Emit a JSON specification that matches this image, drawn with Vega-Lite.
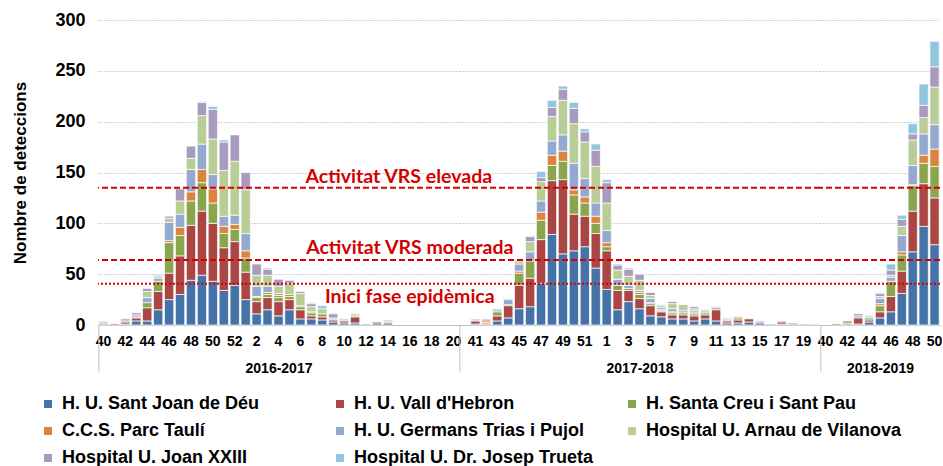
{
  "$schema": "https://vega.github.io/schema/vega-lite/v6.json",
  "background": "white",
  "padding": {"left": 11, "top": 11, "right": 0, "bottom": 0},
  "bounds": "flush",
  "spacing": 0,
  "config": {
    "view": {"stroke": null},
    "legend": {
      "orient": "none", "legendX": -59, "legendY": 375,
      "direction": "horizontal", "columns": 3, "gridAlign": "all",
      "columnPadding": 13, "rowPadding": 9,
      "symbolType": "square", "symbolSize": 64, "symbolStrokeWidth": 0,
      "labelFont": "Liberation Sans", "labelFontSize": 18, "labelFontWeight": "bold",
      "labelColor": "black", "labelOffset": 5, "labelLimit": 400
    },
    "axisX": {
      "titleFont": "Liberation Sans", "titleFontSize": 14, "titleFontWeight": "bold", "titleColor": "black", "titlePadding": 13,
      "labelFont": "Liberation Sans", "labelFontSize": 14, "labelFontWeight": "bold", "labelColor": "black",
      "labelAngle": 0, "labelPadding": 9, "labelOverlap": false, "ticks": false, "tickSize": 0,
      "domainColor": "#BFBFBF", "grid": false
    },
    "axisY": {
      "titleFont": "Liberation Sans", "titleFontSize": 17, "titleFontWeight": "bold", "titleColor": "black", "titlePadding": 25,
      "labelFont": "Liberation Sans", "labelFontSize": 18, "labelFontWeight": "bold", "labelColor": "black", "labelPadding": 13,
      "ticks": false, "tickSize": 0, "domain": false, "grid": true, "gridColor": "#A6A6A6", "gridDash": [1, 2],
      "values": [0, 50, 100, 150, 200, 250, 300]
    }
  },
  "datasets": {
    "hosp": [
      {"k": "a", "name": "H. U. Sant Joan de Déu", "o": 1},
      {"k": "b", "name": "H. U. Vall d'Hebron", "o": 2},
      {"k": "c", "name": "H. Santa Creu i Sant Pau", "o": 3},
      {"k": "d", "name": "C.C.S. Parc Taulí", "o": 4},
      {"k": "e", "name": "H. U. Germans Trias i Pujol", "o": 5},
      {"k": "f", "name": "Hospital U. Arnau de Vilanova", "o": 6},
      {"k": "g", "name": "Hospital U. Joan XXIII", "o": 7},
      {"k": "h", "name": "Hospital U. Dr. Josep Trueta", "o": 8}
    ],
    "rows": [
      {"s": "2016-2017", "w": "40", "a": 1, "b": 1, "c": 1, "f": 1},
      {"s": "2016-2017", "w": "41", "b": 1},
      {"s": "2016-2017", "w": "42", "a": 1, "b": 2, "c": 1, "g": 2},
      {"s": "2016-2017", "w": "43", "a": 4, "b": 3, "c": 1, "e": 2, "g": 2},
      {"s": "2016-2017", "w": "44", "a": 4, "b": 13, "c": 5, "e": 5, "f": 6, "g": 3},
      {"s": "2016-2017", "w": "45", "a": 15, "b": 18, "c": 10, "e": 3, "f": 2, "g": 1},
      {"s": "2016-2017", "w": "46", "a": 25, "b": 26, "c": 30, "d": 2, "e": 18, "f": 4, "g": 2},
      {"s": "2016-2017", "w": "47", "a": 30, "b": 38, "c": 20, "d": 8, "e": 13, "f": 13, "g": 12},
      {"s": "2016-2017", "w": "48", "a": 44, "b": 54, "c": 24, "d": 9, "e": 22, "f": 11, "g": 12},
      {"s": "2016-2017", "w": "49", "a": 49, "b": 63, "c": 28, "d": 13, "e": 25, "f": 28, "g": 13, "h": 1},
      {"s": "2016-2017", "w": "50", "a": 43, "b": 57, "c": 20, "d": 14, "e": 14, "f": 35, "g": 29, "h": 3},
      {"s": "2016-2017", "w": "51", "a": 34, "b": 42, "c": 14, "d": 7, "e": 10, "f": 45, "g": 28, "h": 2},
      {"s": "2016-2017", "w": "52", "a": 39, "b": 43, "c": 12, "d": 5, "e": 9, "f": 53, "g": 26},
      {"s": "2016-2017", "w": "1", "a": 25, "b": 27, "c": 14, "d": 7, "e": 17, "f": 43, "g": 17},
      {"s": "2016-2017", "w": "2", "a": 11, "b": 12, "c": 4, "d": 1, "e": 10, "f": 11, "g": 11},
      {"s": "2016-2017", "w": "3", "a": 15, "b": 12, "c": 3, "d": 2, "e": 6, "f": 11, "g": 6, "h": 1},
      {"s": "2016-2017", "w": "4", "a": 9, "b": 14, "c": 4, "d": 2, "e": 2, "f": 7, "g": 7},
      {"s": "2016-2017", "w": "5", "a": 15, "b": 10, "c": 3, "d": 2, "f": 11, "g": 3},
      {"s": "2016-2017", "w": "6", "a": 6, "b": 9, "c": 3, "d": 1, "f": 12, "g": 2},
      {"s": "2016-2017", "w": "7", "a": 6, "b": 3, "c": 3, "d": 1, "f": 5, "g": 3, "h": 1},
      {"s": "2016-2017", "w": "8", "a": 5, "b": 3, "c": 3, "f": 5, "h": 3},
      {"s": "2016-2017", "w": "9", "a": 3, "b": 2, "c": 1, "e": 1, "g": 4},
      {"s": "2016-2017", "w": "10", "a": 2, "b": 2, "e": 1, "g": 1},
      {"s": "2016-2017", "w": "11", "a": 2, "b": 6, "c": 1, "f": 2},
      {"s": "2016-2017", "w": "12", "c": 1},
      {"s": "2016-2017", "w": "13", "a": 2, "b": 1},
      {"s": "2016-2017", "w": "14", "a": 2, "c": 1, "e": 1, "g": 1},
      {"s": "2017-2018", "w": "41", "a": 1, "b": 3, "e": 1, "g": 1},
      {"s": "2017-2018", "w": "42", "a": 1, "b": 1, "c": 1, "d": 2, "e": 1},
      {"s": "2017-2018", "w": "43", "a": 4, "b": 5, "c": 4, "e": 2, "g": 1},
      {"s": "2017-2018", "w": "44", "a": 7, "b": 12, "c": 1, "e": 5, "g": 1},
      {"s": "2017-2018", "w": "45", "a": 16, "b": 23, "c": 12, "d": 2, "e": 7, "f": 3, "g": 1},
      {"s": "2017-2018", "w": "46", "a": 18, "b": 28, "c": 17, "e": 9, "f": 10, "g": 5, "h": 1},
      {"s": "2017-2018", "w": "47", "a": 41, "b": 43, "c": 19, "d": 8, "e": 11, "f": 19, "g": 4, "h": 6},
      {"s": "2017-2018", "w": "48", "a": 89, "b": 53, "c": 15, "d": 10, "e": 14, "f": 24, "g": 9, "h": 7},
      {"s": "2017-2018", "w": "49", "a": 70, "b": 73, "c": 18, "d": 10, "e": 16, "f": 34, "g": 11, "h": 3},
      {"s": "2017-2018", "w": "50", "a": 73, "b": 36, "c": 19, "d": 5, "e": 26, "f": 39, "g": 15, "h": 6},
      {"s": "2017-2018", "w": "51", "a": 77, "b": 30, "c": 13, "d": 6, "e": 18, "f": 36, "g": 10, "h": 3},
      {"s": "2017-2018", "w": "52", "a": 56, "b": 34, "c": 10, "d": 7, "e": 13, "f": 36, "g": 16, "h": 6},
      {"s": "2017-2018", "w": "1", "a": 35, "b": 38, "c": 4, "d": 4, "e": 12, "f": 27, "g": 20, "h": 3},
      {"s": "2017-2018", "w": "2", "a": 15, "b": 19, "c": 5, "e": 6, "f": 9, "g": 5, "h": 1},
      {"s": "2017-2018", "w": "3", "a": 23, "b": 11, "c": 2, "e": 3, "f": 9, "g": 7, "h": 1},
      {"s": "2017-2018", "w": "4", "a": 16, "b": 10, "c": 4, "d": 2, "e": 2, "f": 10, "g": 6},
      {"s": "2017-2018", "w": "5", "a": 9, "b": 10, "c": 2, "d": 1, "e": 4, "f": 3, "g": 3},
      {"s": "2017-2018", "w": "6", "a": 8, "b": 5, "c": 1, "d": 1, "e": 2, "f": 2, "h": 1},
      {"s": "2017-2018", "w": "7", "a": 6, "b": 4, "c": 2, "d": 1, "e": 3, "f": 5, "g": 2},
      {"s": "2017-2018", "w": "8", "a": 6, "b": 4, "c": 2, "e": 2, "f": 6},
      {"s": "2017-2018", "w": "9", "a": 4, "b": 5, "c": 2, "d": 1, "e": 2, "f": 2, "g": 2},
      {"s": "2017-2018", "w": "10", "a": 6, "b": 4, "c": 2, "f": 2, "g": 1},
      {"s": "2017-2018", "w": "11", "a": 4, "b": 11, "e": 2, "g": 1},
      {"s": "2017-2018", "w": "12", "a": 2, "b": 2, "c": 1, "e": 1, "f": 1},
      {"s": "2017-2018", "w": "13", "a": 2, "b": 3, "c": 2, "d": 1},
      {"s": "2017-2018", "w": "14", "a": 3, "b": 3},
      {"s": "2017-2018", "w": "15", "a": 2, "b": 1, "e": 1},
      {"s": "2017-2018", "w": "16", "e": 1},
      {"s": "2017-2018", "w": "17", "a": 1, "b": 2, "g": 1},
      {"s": "2017-2018", "w": "18", "b": 1, "c": 1},
      {"s": "2017-2018", "w": "19", "e": 1},
      {"s": "2017-2018", "w": "20", "f": 1},
      {"s": "2018-2019", "w": "41", "b": 1},
      {"s": "2018-2019", "w": "42", "a": 1, "b": 1, "c": 2},
      {"s": "2018-2019", "w": "43", "a": 1, "b": 6, "e": 2, "g": 2},
      {"s": "2018-2019", "w": "44", "a": 3, "b": 2, "c": 2, "e": 1, "g": 1},
      {"s": "2018-2019", "w": "45", "a": 7, "b": 6, "c": 6, "d": 2, "e": 5, "f": 2, "g": 3, "h": 1},
      {"s": "2018-2019", "w": "46", "a": 13, "b": 15, "c": 15, "e": 4, "f": 2, "g": 5, "h": 6},
      {"s": "2018-2019", "w": "47", "a": 31, "b": 22, "c": 16, "d": 3, "e": 16, "f": 9, "g": 7, "h": 4},
      {"s": "2018-2019", "w": "48", "a": 72, "b": 40, "c": 25, "d": 1, "e": 19, "f": 25, "g": 6, "h": 10},
      {"s": "2018-2019", "w": "49", "a": 97, "b": 42, "c": 20, "d": 8, "e": 21, "f": 16, "g": 12, "h": 21},
      {"s": "2018-2019", "w": "50", "a": 79, "b": 46, "c": 31, "d": 17, "e": 24, "f": 37, "g": 20, "h": 25}
    ]
  },
  "hconcat": [
    {
      "width": 361, "height": 305,
      "layer": [
        {
          "data": {"name": "rows"},
          "transform": [
            {"filter": "datum.s == '2016-2017'"},
            {"fold": ["a", "b", "c", "d", "e", "f", "g", "h"], "as": ["k", "v"]},
            {"filter": "datum.v > 0"},
            {"lookup": "k", "from": {"data": {"name": "hosp"}, "key": "k", "fields": ["name", "o"]}}
          ],
          "mark": {"type": "bar", "stroke": "white", "strokeWidth": 0.7},
          "encoding": {
            "x": {"field": "w", "type": "ordinal",
              "scale": {"domain": ["40","41","42","43","44","45","46","47","48","49","50","51","52","1","2","3","4","5","6","7","8","9","10","11","12","13","14","15","16","17","18","19","20"], "paddingInner": 0.15, "paddingOuter": 0.075},
              "axis": {"title": "2016-2017", "labelExpr": "toNumber(datum.value) % 2 == 0 ? datum.value : ''"}},
            "y": {"field": "v", "type": "quantitative", "stack": "zero", "scale": {"domain": [0, 300], "nice": false},
              "axis": {"title": "Nombre de deteccions"}},
            "color": {"field": "name", "type": "nominal",
              "scale": {"domain": ["H. U. Sant Joan de Déu", "H. U. Vall d'Hebron", "H. Santa Creu i Sant Pau", "C.C.S. Parc Taulí", "H. U. Germans Trias i Pujol", "Hospital U. Arnau de Vilanova", "Hospital U. Joan XXIII", "Hospital U. Dr. Josep Trueta"],
                "range": ["#4572A7", "#AA4643", "#89A54E", "#DB843D", "#93A9CF", "#B9CD96", "#A99BBD", "#92C5DE"]},
              "legend": {"title": null}},
            "order": {"field": "o", "type": "quantitative", "sort": "ascending"}
          }
        },
        {
          "data": {"values": [{}]},
          "mark": {"type": "rule", "color": "#BFBFBF", "strokeWidth": 1},
          "encoding": {"x": {"datum": "40", "bandPosition": 0}, "y": {"datum": 0}, "y2": {"datum": -46}}
        },
        {
          "data": {"values": [{}]},
          "mark": {"type": "rule", "color": "#D40000", "strokeWidth": 2, "strokeDash": [6, 3]},
          "encoding": {"y": {"datum": 135}}
        },
        {
          "data": {"values": [{}]},
          "mark": {"type": "rule", "color": "#D40000", "strokeWidth": 2, "strokeDash": [6, 3]},
          "encoding": {"y": {"datum": 64}}
        },
        {
          "data": {"values": [{}]},
          "mark": {"type": "rule", "color": "#D40000", "strokeWidth": 2, "strokeDash": [2, 2]},
          "encoding": {"y": {"datum": 40.5}}
        },
        {
          "data": {"values": [{}]},
          "mark": {"type": "text", "font": "Lato", "fontSize": 19.5, "fontWeight": "bold", "color": "#D40000", "align": "center", "baseline": "middle"},
          "encoding": {"x": {"datum": "15"}, "y": {"datum": 146}, "text": {"value": "Activitat VRS elevada"}}
        },
        {
          "data": {"values": [{}]},
          "mark": {"type": "text", "font": "Lato", "fontSize": 19.5, "fontWeight": "bold", "color": "#D40000", "align": "center", "baseline": "middle"},
          "encoding": {"x": {"datum": "16"}, "y": {"datum": 76}, "text": {"value": "Activitat VRS moderada"}}
        },
        {
          "data": {"values": [{}]},
          "mark": {"type": "text", "font": "Lato", "fontSize": 19.5, "fontWeight": "bold", "color": "#D40000", "align": "center", "baseline": "middle"},
          "encoding": {"x": {"datum": "16"}, "y": {"datum": 27.5}, "text": {"value": "Inici fase epidèmica"}}
        }
      ]
    },
    {
      "width": 361, "height": 305,
      "layer": [
        {
          "data": {"name": "rows"},
          "transform": [
            {"filter": "datum.s == '2017-2018'"},
            {"fold": ["a", "b", "c", "d", "e", "f", "g", "h"], "as": ["k", "v"]},
            {"filter": "datum.v > 0"},
            {"lookup": "k", "from": {"data": {"name": "hosp"}, "key": "k", "fields": ["name", "o"]}}
          ],
          "mark": {"type": "bar", "stroke": "white", "strokeWidth": 0.7},
          "encoding": {
            "x": {"field": "w", "type": "ordinal",
              "scale": {"domain": ["40","41","42","43","44","45","46","47","48","49","50","51","52","1","2","3","4","5","6","7","8","9","10","11","12","13","14","15","16","17","18","19","20"], "paddingInner": 0.15, "paddingOuter": 0.075},
              "axis": {"title": "2017-2018", "labelExpr": "toNumber(datum.value) % 2 == 1 ? datum.value : ''"}},
            "y": {"field": "v", "type": "quantitative", "stack": "zero", "scale": {"domain": [0, 300], "nice": false},
              "axis": {"title": null, "labels": false, "labelPadding": 0, "titlePadding": 0}},
            "color": {"field": "name", "type": "nominal",
              "scale": {"domain": ["H. U. Sant Joan de Déu", "H. U. Vall d'Hebron", "H. Santa Creu i Sant Pau", "C.C.S. Parc Taulí", "H. U. Germans Trias i Pujol", "Hospital U. Arnau de Vilanova", "Hospital U. Joan XXIII", "Hospital U. Dr. Josep Trueta"],
                "range": ["#4572A7", "#AA4643", "#89A54E", "#DB843D", "#93A9CF", "#B9CD96", "#A99BBD", "#92C5DE"]},
              "legend": {"title": null}},
            "order": {"field": "o", "type": "quantitative", "sort": "ascending"}
          }
        },
        {
          "data": {"values": [{}]},
          "mark": {"type": "rule", "color": "#BFBFBF", "strokeWidth": 1},
          "encoding": {"x": {"datum": "40", "bandPosition": 0}, "y": {"datum": 0}, "y2": {"datum": -46}}
        },
        {
          "data": {"values": [{}]},
          "mark": {"type": "rule", "color": "#D40000", "strokeWidth": 2, "strokeDash": [6, 3]},
          "encoding": {"y": {"datum": 135}}
        },
        {
          "data": {"values": [{}]},
          "mark": {"type": "rule", "color": "#D40000", "strokeWidth": 2, "strokeDash": [6, 3]},
          "encoding": {"y": {"datum": 64}}
        },
        {
          "data": {"values": [{}]},
          "mark": {"type": "rule", "color": "#D40000", "strokeWidth": 2, "strokeDash": [2, 2]},
          "encoding": {"y": {"datum": 40.5}}
        }
      ]
    },
    {
      "width": 120, "height": 305,
      "layer": [
        {
          "data": {"name": "rows"},
          "transform": [
            {"filter": "datum.s == '2018-2019'"},
            {"fold": ["a", "b", "c", "d", "e", "f", "g", "h"], "as": ["k", "v"]},
            {"filter": "datum.v > 0"},
            {"lookup": "k", "from": {"data": {"name": "hosp"}, "key": "k", "fields": ["name", "o"]}}
          ],
          "mark": {"type": "bar", "stroke": "white", "strokeWidth": 0.7},
          "encoding": {
            "x": {"field": "w", "type": "ordinal",
              "scale": {"domain": ["40","41","42","43","44","45","46","47","48","49","50"], "paddingInner": 0.15, "paddingOuter": 0.075},
              "axis": {"title": "2018-2019", "labelExpr": "toNumber(datum.value) % 2 == 0 ? datum.value : ''"}},
            "y": {"field": "v", "type": "quantitative", "stack": "zero", "scale": {"domain": [0, 300], "nice": false},
              "axis": {"title": null, "labels": false, "labelPadding": 0, "titlePadding": 0}},
            "color": {"field": "name", "type": "nominal",
              "scale": {"domain": ["H. U. Sant Joan de Déu", "H. U. Vall d'Hebron", "H. Santa Creu i Sant Pau", "C.C.S. Parc Taulí", "H. U. Germans Trias i Pujol", "Hospital U. Arnau de Vilanova", "Hospital U. Joan XXIII", "Hospital U. Dr. Josep Trueta"],
                "range": ["#4572A7", "#AA4643", "#89A54E", "#DB843D", "#93A9CF", "#B9CD96", "#A99BBD", "#92C5DE"]},
              "legend": {"title": null}},
            "order": {"field": "o", "type": "quantitative", "sort": "ascending"}
          }
        },
        {
          "data": {"values": [{}]},
          "mark": {"type": "rule", "color": "#BFBFBF", "strokeWidth": 1},
          "encoding": {"x": {"datum": "40", "bandPosition": 0}, "y": {"datum": 0}, "y2": {"datum": -46}}
        },
        {
          "data": {"values": [{}]},
          "mark": {"type": "rule", "color": "#D40000", "strokeWidth": 2, "strokeDash": [6, 3]},
          "encoding": {"y": {"datum": 135}}
        },
        {
          "data": {"values": [{}]},
          "mark": {"type": "rule", "color": "#D40000", "strokeWidth": 2, "strokeDash": [6, 3]},
          "encoding": {"y": {"datum": 64}}
        },
        {
          "data": {"values": [{}]},
          "mark": {"type": "rule", "color": "#D40000", "strokeWidth": 2, "strokeDash": [2, 2]},
          "encoding": {"y": {"datum": 40.5}}
        }
      ]
    }
  ]
}
